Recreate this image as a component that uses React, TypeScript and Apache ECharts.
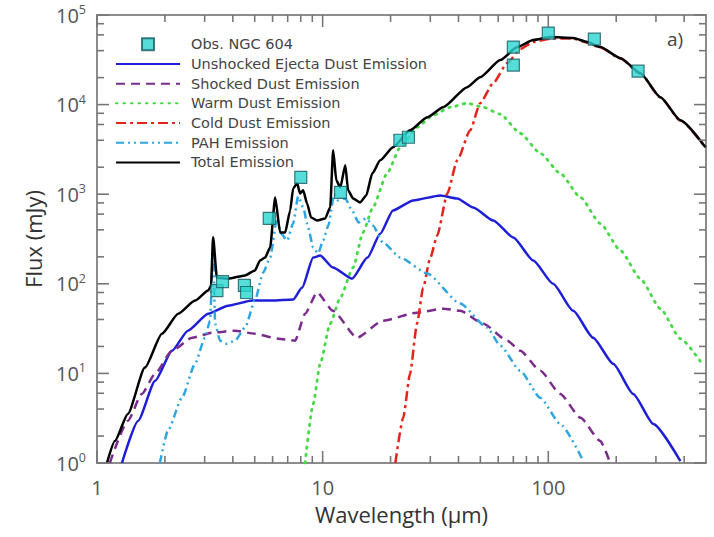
import React, { useEffect, useRef } from 'react';
import * as echarts from 'echarts';

const FONT = '"Open Sans", "DejaVu Sans", sans-serif';
const LEGEND_FONT = '"DejaVu Sans", sans-serif';

const X_MIN = 1;
const X_MAX = 500;
const Y_MIN = 1;
const Y_MAX = 100000;

const obsData = [
  [3.4, 84], [3.6, 106], [4.5, 96], [4.6, 80], [5.8, 536], [8.0, 1542], [12, 1050],
  [22, 4000], [24, 4320], [70, 43900], [70, 27600], [100, 62900], [160, 53900], [250, 23600],
];

const unshockedData = [
  [1.29, 1], [1.52, 2.95], [1.81, 8.27], [2.15, 17.9], [2.53, 30], [3.11, 46.4], [3.81, 57],
  [4.87, 64.9], [5.97, 64.9], [7.4, 66.6], [8.11, 90.7], [9.08, 196], [9.75, 207], [11.1, 152],
  [13.5, 114], [15.8, 196], [18, 363], [20.5, 659], [25.2, 853], [33.2, 970], [39.5, 897],
  [46.5, 712], [57, 509], [70, 329], [85.8, 182], [105, 100], [129, 50], [158, 25], [194, 12.8],
  [238, 5.9], [292, 2.73], [385, 1.05],
];

const shockedData = [
  [1.14, 1], [1.37, 2.95], [1.58, 5.9], [1.81, 9.9], [2.15, 17.9], [2.64, 25], [3.24, 28.5],
  [4.09, 30], [5.01, 27.7], [6.35, 24.4], [7.55, 23.2], [8.36, 46.4], [9.45, 80], [11.1, 50.1],
  [14.2, 25], [18.5, 38.8], [26.2, 47.6], [34.2, 52.8], [40.7, 50.1], [51.5, 35.9], [65.8, 23.2],
  [75.1, 17.9], [92.2, 10.7], [113, 5.9], [139, 3.19], [170, 1.76], [188, 1],
];

const warmData = [
  [8.36, 1], [9.08, 4.57], [9.75, 12.8], [10.8, 35.9], [11.97, 70.1], [13.65, 152], [15.1, 374],
  [16.7, 712], [19.3, 1709], [22.1, 3337], [26.2, 5590], [30.9, 7610], [36.8, 9350], [43.7, 10370],
  [51.5, 9350], [61.3, 7810], [75.1, 4790], [92.2, 2860], [113, 1709], [139, 920], [170, 471],
  [209, 235], [256, 114], [314, 52.8], [385, 24.4], [487, 12.2],
];

const coldData = [
  [21, 1], [22.75, 3.19], [24.4, 9.9], [26.2, 35.9], [27.9, 90.7], [30, 196], [32.2, 346],
  [35.7, 1021], [39.5, 2388], [45.1, 5174], [49.9, 10370], [57, 17350], [65.8, 29040],
  [75.1, 41700], [85.8, 49900], [102, 54500], [129, 54500], [149, 49300], [170, 43300],
  [209, 32700], [256, 22200], [314, 12000], [385, 6650], [497, 3320],
];

const pahData = [
  [1.9, 1], [2.06, 2.28], [2.38, 5.33], [2.72, 12.8], [3.01, 25], [3.17, 38.8], [3.27, 250],
  [3.34, 35.9], [3.51, 23.2], [3.77, 21.4], [4.09, 23.2], [4.53, 32.4], [5.01, 64.9], [5.45, 133],
  [5.85, 196], [6.28, 536], [6.54, 365], [6.96, 304], [7.4, 471], [7.79, 945], [8.2, 712],
  [8.62, 425], [9.08, 254], [9.55, 218], [10.05, 304], [10.6, 448], [11.25, 1000], [11.7, 853],
  [12.6, 897], [13.5, 659], [14.4, 484], [15.6, 536], [16.7, 448], [18.5, 289], [22.1, 196],
  [29.1, 130], [40.7, 60.1], [53.6, 32.4], [61.3, 20.4], [75.1, 10.7], [92.2, 5.33], [113, 2.73],
  [143, 1.05],
];

const totalData = [
  [1.107, 1], [1.2, 1.76], [1.37, 3.53], [1.63, 11.6], [1.94, 27.7], [2.29, 46.4], [2.72, 64.9],
  [3.11, 84], [3.2, 95], [3.27, 330], [3.4, 117], [3.81, 114], [4.53, 124], [5.01, 141],
  [5.28, 182], [5.56, 196], [5.85, 254], [6.16, 920], [6.48, 374], [6.82, 374], [7.18, 659],
  [7.4, 1161], [7.71, 1321], [7.94, 1021], [8.2, 1104], [8.53, 789], [8.89, 550], [9.46, 509],
  [10.26, 536], [10.8, 712], [11.13, 3090], [11.5, 1427], [11.97, 1191], [12.6, 2100],
  [12.97, 1104], [13.65, 897], [14.67, 809], [15.6, 970], [16.6, 1709], [18, 2388], [20.5, 3337],
  [24.4, 5174], [29.1, 7230], [34.2, 9350], [43.7, 15660], [49.9, 20240], [61.3, 31400],
  [72.8, 43850], [85.8, 52500], [102, 56700], [129, 55300], [149, 49900], [170, 43850],
  [209, 33000], [256, 22400], [314, 12100], [385, 6700], [497, 3340],
];

const xTickValues = [1, 2, 3, 4, 5, 6, 7, 8, 9, 10, 20, 30, 40, 50, 60, 70, 80, 90, 100, 200, 300, 400];
const yTickValues = [
  1, 2, 4, 6, 8, 10, 20, 40, 60, 80, 100, 200, 400, 600, 800, 1000, 2000, 4000, 6000, 8000,
  10000, 20000, 40000, 60000, 80000, 100000,
];

const legendNames = [
  'Obs. NGC 604',
  'Unshocked Ejecta Dust Emission',
  'Shocked Dust Emission',
  'Warm Dust Emission',
  'Cold Dust Emission',
  'PAH Emission',
  'Total Emission',
];

const TICK_COLOR = '#777777';
const AXIS_COLOR = '#8c8c8c';
const MAJOR_LEN = 12;
const MINOR_LEN = 7;

const GRID = { left: 97, top: 15, right: 8, bottom: 74 };
const PLOT_W = 714 - GRID.left - GRID.right;
const PLOT_H = 537 - GRID.top - GRID.bottom;
const PX_PER_DEC_X = PLOT_W / Math.log10(X_MAX / X_MIN);
const PX_PER_DEC_Y = PLOT_H / Math.log10(Y_MAX / Y_MIN);

function isPow10(v: number) {
  const l = Math.log10(v);
  return Math.abs(l - Math.round(l)) < 1e-6;
}

const hiddenSymbol = { opacity: 0, color: 'rgba(0,0,0,0)', borderColor: 'rgba(0,0,0,0)', borderWidth: 0 };

// One short line series per tick mark, from the frame edge inwards along the log scales.
function tickSeries() {
  const out: any[] = [];
  const base = {
    type: 'line', showSymbol: false, symbol: 'none', smooth: false, silent: true, clip: false,
    z: 30, animation: false,
    lineStyle: { color: TICK_COLOR, width: 1.6, opacity: 1 }, itemStyle: { color: TICK_COLOR },
  };
  xTickValues.forEach((v) => {
    const len = isPow10(v) ? MAJOR_LEN : MINOR_LEN;
    const f = Math.pow(10, len / PX_PER_DEC_Y);
    out.push({ ...base, data: [[v, Y_MIN], [v, Y_MIN * f]] });
    out.push({ ...base, data: [[v, Y_MAX], [v, Y_MAX / f]] });
  });
  yTickValues.forEach((v) => {
    const len = isPow10(v) ? MAJOR_LEN : MINOR_LEN;
    const f = Math.pow(10, len / PX_PER_DEC_X);
    out.push({ ...base, data: [[X_MIN, v], [X_MIN * f, v]] });
    out.push({ ...base, data: [[X_MAX, v], [X_MAX / f, v]] });
  });
  return out;
}

export default function App() {
  const ref = useRef<HTMLDivElement>(null);
  useEffect(() => {
    if (!ref.current) return;
    const chart = echarts.init(ref.current, null, { renderer: 'svg' });
    const lineBase = {
      type: 'line', showSymbol: false, symbol: 'none', smooth: 0.2, smoothMonotone: 'x', silent: true,
    };
    const axisLineStyle = { show: true, lineStyle: { color: AXIS_COLOR, width: 2 } };
    const option: any = {
      animation: false,
      backgroundColor: '#ffffff',
      grid: { ...GRID, containLabel: false },
      legend: {
        data: legendNames.map((n, i) =>
          i === 0
            ? { name: n, icon: 'path://M0,0L10,0L10,10L0,10Z' }
            : { name: n, itemStyle: hiddenSymbol }
        ),
        orient: 'vertical',
        left: 110,
        top: 31,
        itemWidth: 64,
        itemHeight: 12,
        itemGap: 3.2,
        symbolKeepAspect: true,
        textStyle: { fontSize: 14.5, lineHeight: 16.5, color: '#444444', fontFamily: LEGEND_FONT, padding: [0, 0, 0, 6] },
      },
      graphic: [
        { type: 'text', left: 667, top: 29, style: { text: 'a)', fontSize: 19, fill: '#444444', fontFamily: FONT } },
      ],
      xAxis: [
        {
          type: 'log', logBase: 10, min: X_MIN, max: X_MAX, position: 'bottom',
          name: 'Wavelength (μm)', nameLocation: 'middle', nameGap: 40,
          nameTextStyle: { fontSize: 22, color: '#333333', fontFamily: FONT },
          axisLine: axisLineStyle, axisTick: { show: false },
          axisLabel: {
            fontSize: 20, color: '#555555', margin: 14, fontFamily: FONT,
            formatter: (v: number) => (isPow10(v) ? String(Math.round(v)) : ''),
          },
          splitLine: { show: false },
        },
        {
          type: 'log', logBase: 10, min: X_MIN, max: X_MAX, position: 'top',
          axisLine: axisLineStyle, axisTick: { show: false }, axisLabel: { show: false },
          splitLine: { show: false },
        },
      ],
      yAxis: [
        {
          type: 'log', logBase: 10, min: Y_MIN, max: Y_MAX, position: 'left',
          name: 'Flux (mJy)', nameLocation: 'middle', nameGap: 53,
          nameTextStyle: { fontSize: 22, color: '#333333', fontFamily: FONT },
          axisLine: axisLineStyle, axisTick: { show: false },
          axisLabel: {
            margin: 11, fontFamily: FONT,
            formatter: (v: number) => (isPow10(v) ? `{b|10}{s|${Math.round(Math.log10(v))}}` : ''),
            rich: {
              b: { fontSize: 20, color: '#555555', lineHeight: 24, fontFamily: FONT },
              s: { fontSize: 12.5, color: '#555555', lineHeight: 14, verticalAlign: 'top', fontFamily: FONT },
            },
          },
          splitLine: { show: false },
        },
        {
          type: 'log', logBase: 10, min: Y_MIN, max: Y_MAX, position: 'right',
          axisLine: axisLineStyle, axisTick: { show: false }, axisLabel: { show: false },
          splitLine: { show: false },
        },
      ],
      series: [
        {
          ...lineBase, name: 'Unshocked Ejecta Dust Emission', data: unshockedData,
          lineStyle: { color: '#1e1ed8', width: 2.5 }, itemStyle: { color: '#1e1ed8' },
        },
        {
          ...lineBase, name: 'Shocked Dust Emission', data: shockedData,
          lineStyle: { color: '#7a2c8c', width: 2.5, type: [9, 6] }, itemStyle: { color: '#7a2c8c' },
        },
        {
          ...lineBase, name: 'Warm Dust Emission', data: warmData,
          lineStyle: { color: '#47d847', width: 2.8, type: [1.5, 6], cap: 'round' }, itemStyle: { color: '#47d847' },
        },
        {
          ...lineBase, name: 'Cold Dust Emission', data: coldData,
          lineStyle: { color: '#e3241b', width: 2.5, type: [10, 4, 3, 4] }, itemStyle: { color: '#e3241b' },
        },
        {
          ...lineBase, name: 'PAH Emission', data: pahData,
          lineStyle: { color: '#2ea6e0', width: 2.5, type: [8, 4, 2, 4, 2, 4] }, itemStyle: { color: '#2ea6e0' },
        },
        {
          ...lineBase, name: 'Total Emission', data: totalData,
          lineStyle: { color: '#000000', width: 2.5 }, itemStyle: { color: '#000000' },
        },
        {
          type: 'scatter', name: 'Obs. NGC 604', data: obsData, symbol: 'rect', symbolSize: 12, z: 10,
          itemStyle: { color: '#2bd4cf', borderColor: '#16595e', borderWidth: 1.2 },
          silent: true,
        },
        ...tickSeries(),
      ],
    };
    chart.setOption(option);
    return () => chart.dispose();
  }, []);
  return <div ref={ref} style={{ position: 'fixed', left: 0, top: 0, width: 714, height: 537, background: '#fff' }} />;
}
